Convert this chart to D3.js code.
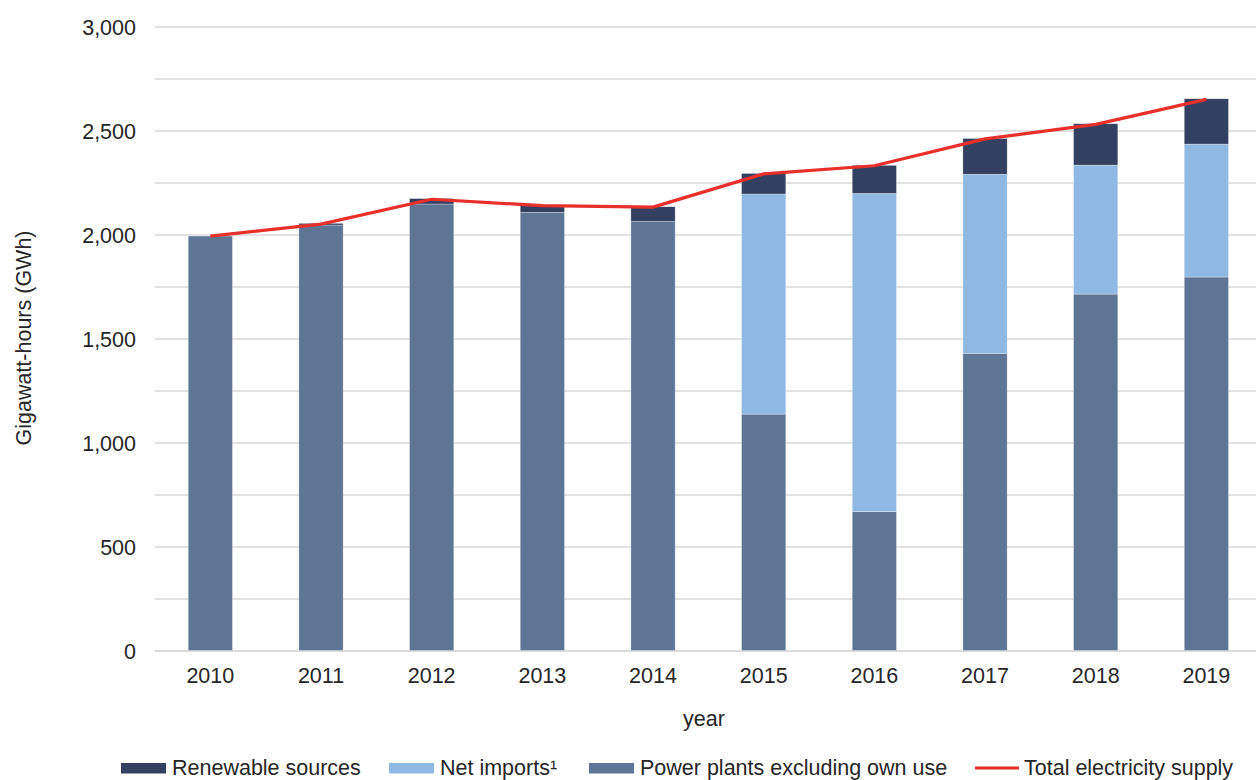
<!DOCTYPE html>
<html><head><meta charset="utf-8">
<script src="https://cdn.jsdelivr.net/npm/d3@7"></script>
<style>body{margin:0;background:#fff;} text{font-family:"Liberation Sans",Arial,sans-serif;}</style>
</head><body>
<svg id="c" width="1256" height="780"></svg>
<script>
const years = ["2010","2011","2012","2013","2014","2015","2016","2017","2018","2019"];
const powerPlants = [1995, 2048, 2149, 2109, 2065, 1139, 670, 1431, 1716, 1798];
const netImports = [0, 0, 0, 0, 0, 1058, 1530, 861, 620, 639];
const renewables = [0, 8, 26, 35, 71, 99, 135, 172, 199, 218];
const totalSupply = [1995, 2052, 2172, 2141, 2134, 2294, 2333, 2462, 2532, 2652];
const yTicks = [0, 500, 1000, 1500, 2000, 2500, 3000];
const gridTicks = [0,250,500,750,1000,1250,1500,1750,2000,2250,2500,2750,3000];
const seriesNames = ["Renewable sources","Net imports\u00b9","Power plants excluding own use","Total electricity supply"];

const colors = {power:"#5f7596", imports:"#8fb9e2", renew:"#344061", line:"#e8302a"};
const FS = 21.5;
const TXT = "#262626";
const svg = d3.select("#c");
const x = d3.scaleBand().domain(years).range([155, 1261.7]).paddingInner(0.6).paddingOuter(0.3);
const y = d3.scaleLinear().domain([0, 3000]).range([651, 27]);

svg.append("g").selectAll("line").data(gridTicks).join("line")
  .attr("x1", 155).attr("x2", 1256).attr("y1", d => y(d)).attr("y2", d => y(d))
  .attr("stroke", "#d9d9d9").attr("stroke-width", 1.3);

const table = years.map((yr,i)=>({year:yr, power:powerPlants[i], imports:netImports[i], renew:renewables[i]}));
const stack = d3.stack().keys(["power","imports","renew"])(table);
svg.append("g").selectAll("g").data(stack).join("g")
  .attr("fill", d => colors[d.key])
  .selectAll("rect").data(d => d).join("rect")
  .attr("x", d => x(d.data.year)).attr("width", x.bandwidth())
  .attr("y", d => y(d[1])).attr("height", d => Math.max(0, y(d[0]) - y(d[1])))
  .attr("stroke", "rgba(255,255,255,0.5)").attr("stroke-width", 0.6);

const line = d3.line().x((d,i) => x(years[i]) + x.bandwidth()/2).y(d => y(d));
svg.append("path").datum(totalSupply).attr("d", line)
  .attr("fill","none").attr("stroke", colors.line).attr("stroke-width", 3.2).attr("stroke-linejoin","round");

// Y axis
const yAxis = d3.axisLeft(y).tickValues(yTicks).tickSize(0).tickPadding(0).tickFormat(d3.format(","));
const ya = svg.append("g").attr("transform","translate(136,0)").call(yAxis);
ya.select(".domain").remove();
ya.selectAll("text").attr("font-size", FS).attr("fill", TXT).attr("font-family","Liberation Sans, Arial, sans-serif").attr("dy","0.36em");

// X axis
const xAxis = d3.axisBottom(x).tickSize(0).tickPadding(0);
const xa = svg.append("g").attr("transform","translate(0,683)").call(xAxis);
xa.select(".domain").remove();
xa.selectAll("text").attr("font-size", FS).attr("fill", TXT).attr("font-family","Liberation Sans, Arial, sans-serif").attr("dy", 0);

svg.append("line").attr("x1",155).attr("x2",1256).attr("y1",y(0)).attr("y2",y(0)).attr("stroke","#d9d9d9").attr("stroke-width",1.3);

svg.append("text").attr("transform","translate(31,338) rotate(-90)").attr("text-anchor","middle")
  .attr("font-size",FS).attr("fill",TXT).text("Gigawatt-hours (GWh)");
svg.append("text").attr("x",704).attr("y",726).attr("text-anchor","middle")
  .attr("font-size",FS).attr("fill",TXT).text("year");

// Legend
const legend = [
  {name: seriesNames[0], type:"rect", color: colors.renew, x:121},
  {name: seriesNames[1], type:"rect", color: colors.imports, x:389},
  {name: seriesNames[2], type:"rect", color: colors.power, x:589},
  {name: seriesNames[3], type:"line", color: colors.line, x:975}
];
const lg = svg.append("g").selectAll("g").data(legend).join("g").attr("transform", d => `translate(${d.x},775)`);
lg.filter(d => d.type==="rect").append("rect").attr("x",0).attr("y",-12).attr("width",45).attr("height",10.5).attr("fill", d=>d.color);
lg.filter(d => d.type==="line").append("line").attr("x1",0).attr("x2",44).attr("y1",-7).attr("y2",-7).attr("stroke", d=>d.color).attr("stroke-width",3);
lg.append("text").attr("x", d => d.type==="line" ? 49 : 51).attr("y", 0).attr("font-size", FS).attr("fill",TXT).text(d => d.name);
</script>
</body></html>
